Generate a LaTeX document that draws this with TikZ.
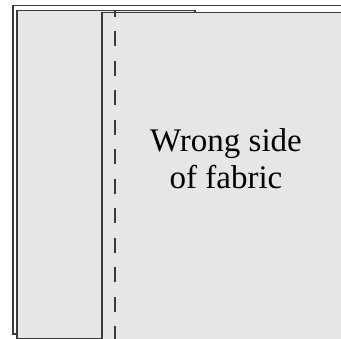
\documentclass[tikz,border=0pt]{standalone}
\usepackage{fontspec}
\setmainfont{Liberation Serif}
\definecolor{panel}{HTML}{E6E6E6}
\definecolor{edge}{HTML}{3A3A3A}
\begin{document}
\begin{tikzpicture}[x=1pt,y=-1pt,
  sheet/.style={draw=edge,line width=1.3pt},
  panelbox/.style={draw=edge,fill=panel,line width=1.3pt},
  seam/.style={draw=edge,line width=1.2pt,dash pattern=on 15pt off 14.5pt,dash phase=9pt},
  labeltext/.style={font=\fontsize{33}{37}\selectfont,inner sep=0pt,anchor=base}]
\useasboundingbox (0,0) rectangle (341,339);
\clip (0,0) rectangle (341,339);
% outer sheet
\draw[sheet,fill=white] (13,5.3) rectangle (360,334);
% left (under) panel
\draw[panelbox] (17,10.7) rectangle (195,338.5);
% right (folded) panel
\draw[panelbox,line width=1.1pt] (102,12.3) rectangle (360,360);
% stitching line
\coordinate (s1) at (115,11);
\coordinate (s2) at (115,339);
\draw[seam] (s1) -- (s2);
\node[labeltext] (label1) at (226,152) {Wrong side};
\node[labeltext] (label2) at (226,189) {of fabric};
\end{tikzpicture}
\end{document}
